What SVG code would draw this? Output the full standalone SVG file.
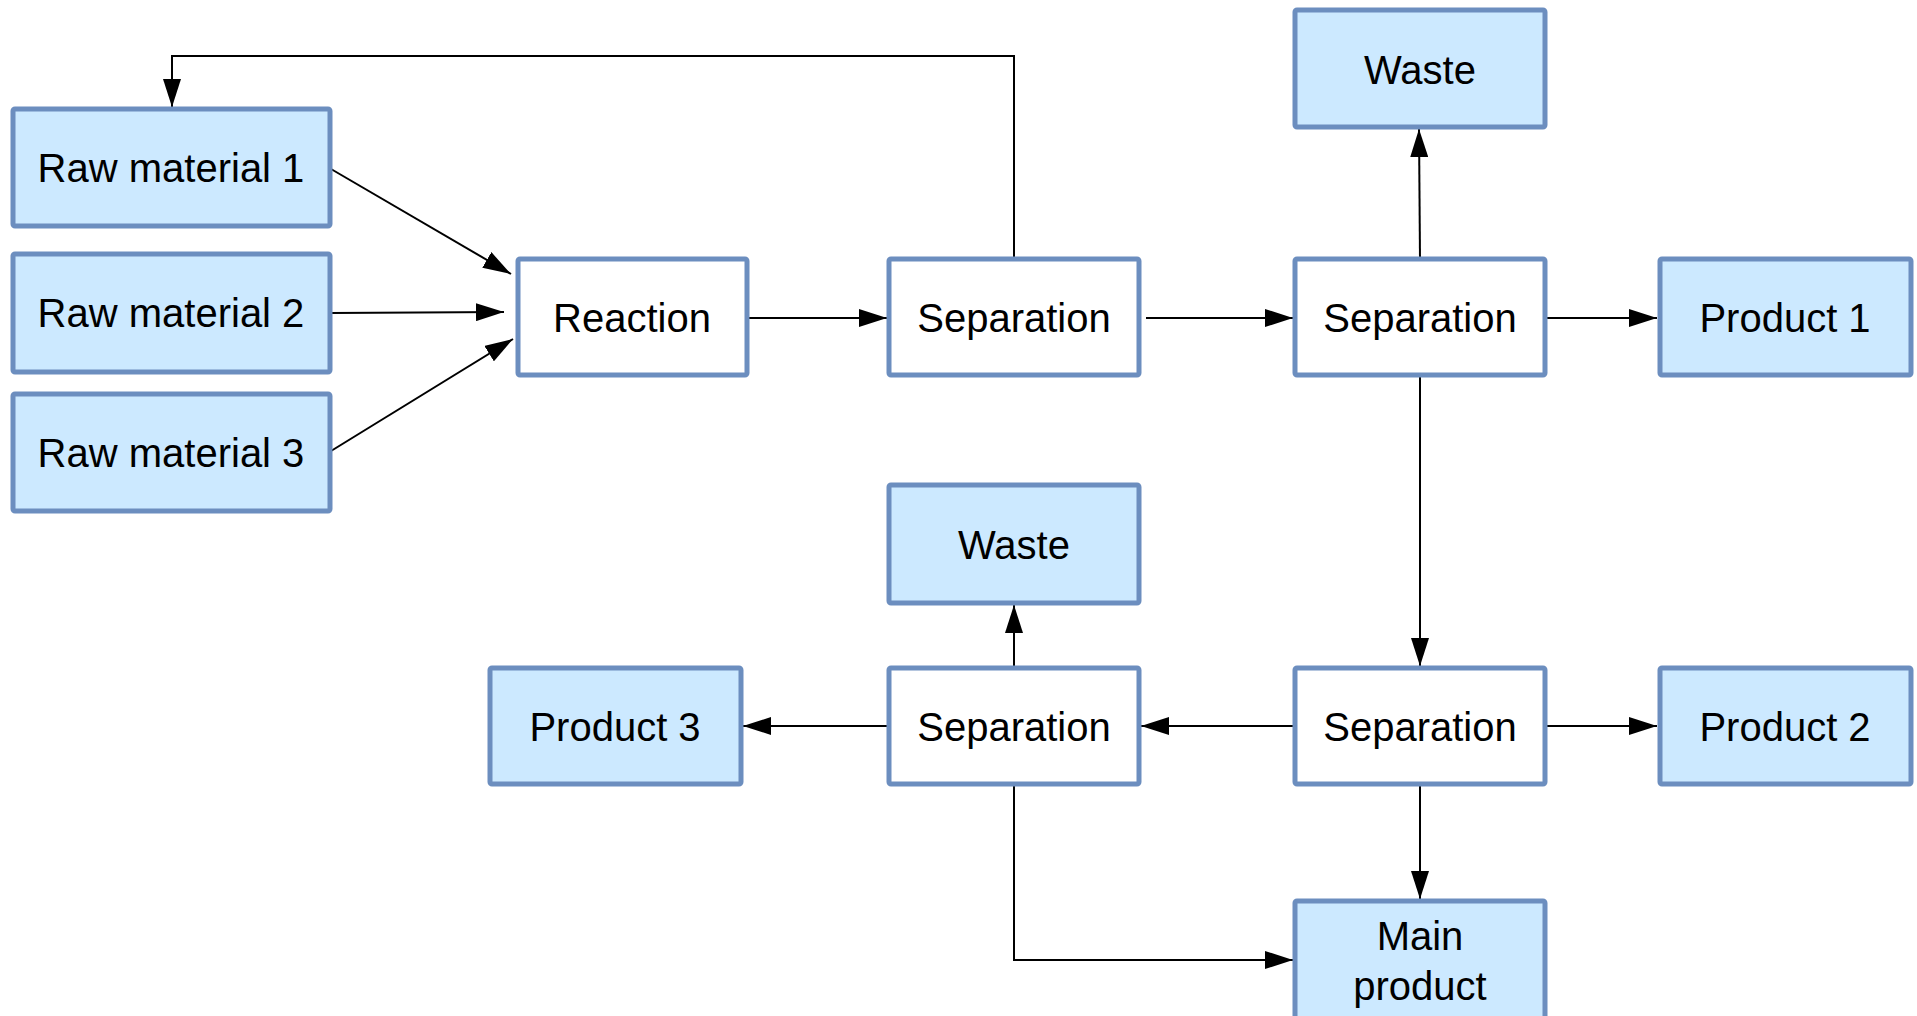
<svg xmlns="http://www.w3.org/2000/svg" width="1917" height="1016" viewBox="0 0 1917 1016">
<style>
.box{stroke:#6c8ebf;stroke-width:5;}
.blue{fill:#cce9ff;}
.white{fill:#ffffff;}
.lbl{font-family:"Liberation Sans",Arial,sans-serif;font-size:40px;fill:#000;text-anchor:middle;}
.edge{fill:none;stroke:#000;stroke-width:2;}
</style>
<defs>
<marker id="arr" markerUnits="userSpaceOnUse" markerWidth="28" markerHeight="18" refX="28" refY="9" orient="auto">
<path d="M0,0 L28,9 L0,18 z" fill="#000"/>
</marker>
</defs>
<rect width="1917" height="1016" fill="#ffffff"/>
<g id="connectors">
<polyline class="edge" points="1014,259 1014,56 172,56 172,107" marker-end="url(#arr)"/>
<line class="edge" x1="331" y1="169" x2="511" y2="274" marker-end="url(#arr)"/>
<line class="edge" x1="331" y1="313" x2="504" y2="312" marker-end="url(#arr)"/>
<line class="edge" x1="331" y1="451" x2="513" y2="339" marker-end="url(#arr)"/>
<line class="edge" x1="747" y1="318" x2="887" y2="318" marker-end="url(#arr)"/>
<line class="edge" x1="1146" y1="318" x2="1293" y2="318" marker-end="url(#arr)"/>
<line class="edge" x1="1420" y1="259" x2="1419" y2="129" marker-end="url(#arr)"/>
<line class="edge" x1="1545" y1="318" x2="1657" y2="318" marker-end="url(#arr)"/>
<line class="edge" x1="1420" y1="377" x2="1420" y2="666" marker-end="url(#arr)"/>
<line class="edge" x1="1545" y1="726" x2="1657" y2="726" marker-end="url(#arr)"/>
<line class="edge" x1="1295" y1="726" x2="1141" y2="726" marker-end="url(#arr)"/>
<line class="edge" x1="889" y1="726" x2="743" y2="726" marker-end="url(#arr)"/>
<line class="edge" x1="1014" y1="668" x2="1014" y2="605" marker-end="url(#arr)"/>
<line class="edge" x1="1420" y1="784" x2="1420" y2="899" marker-end="url(#arr)"/>
<polyline class="edge" points="1014,784 1014,960 1293,960" marker-end="url(#arr)"/>
</g>
<g id="raw1"><rect class="box blue" x="13" y="109" width="317" height="117" rx="2"/><text class="lbl" x="171" y="182">Raw material 1</text></g>
<g id="raw2"><rect class="box blue" x="13" y="254" width="317" height="118" rx="2"/><text class="lbl" x="171" y="327">Raw material 2</text></g>
<g id="raw3"><rect class="box blue" x="13" y="394" width="317" height="117" rx="2"/><text class="lbl" x="171" y="467">Raw material 3</text></g>
<g id="reaction"><rect class="box white" x="518" y="259" width="229" height="116" rx="2"/><text class="lbl" x="632" y="332">Reaction</text></g>
<g id="sep1"><rect class="box white" x="889" y="259" width="250" height="116" rx="2"/><text class="lbl" x="1014" y="332">Separation</text></g>
<g id="sep2"><rect class="box white" x="1295" y="259" width="250" height="116" rx="2"/><text class="lbl" x="1420" y="332">Separation</text></g>
<g id="product1"><rect class="box blue" x="1660" y="259" width="251" height="116" rx="2"/><text class="lbl" x="1785" y="332">Product 1</text></g>
<g id="waste1"><rect class="box blue" x="1295" y="10" width="250" height="117" rx="2"/><text class="lbl" x="1420" y="84">Waste</text></g>
<g id="waste2"><rect class="box blue" x="889" y="485" width="250" height="118" rx="2"/><text class="lbl" x="1014" y="559">Waste</text></g>
<g id="product3"><rect class="box blue" x="490" y="668" width="251" height="116" rx="2"/><text class="lbl" x="615" y="741">Product 3</text></g>
<g id="sep3"><rect class="box white" x="889" y="668" width="250" height="116" rx="2"/><text class="lbl" x="1014" y="741">Separation</text></g>
<g id="sep4"><rect class="box white" x="1295" y="668" width="250" height="116" rx="2"/><text class="lbl" x="1420" y="741">Separation</text></g>
<g id="product2"><rect class="box blue" x="1660" y="668" width="251" height="116" rx="2"/><text class="lbl" x="1785" y="741">Product 2</text></g>
<g id="mainproduct"><rect class="box blue" x="1295" y="901" width="250" height="120" rx="2"/><text class="lbl" x="1420" y="950">Main</text><text class="lbl" x="1420" y="1000">product</text></g>
</svg>
